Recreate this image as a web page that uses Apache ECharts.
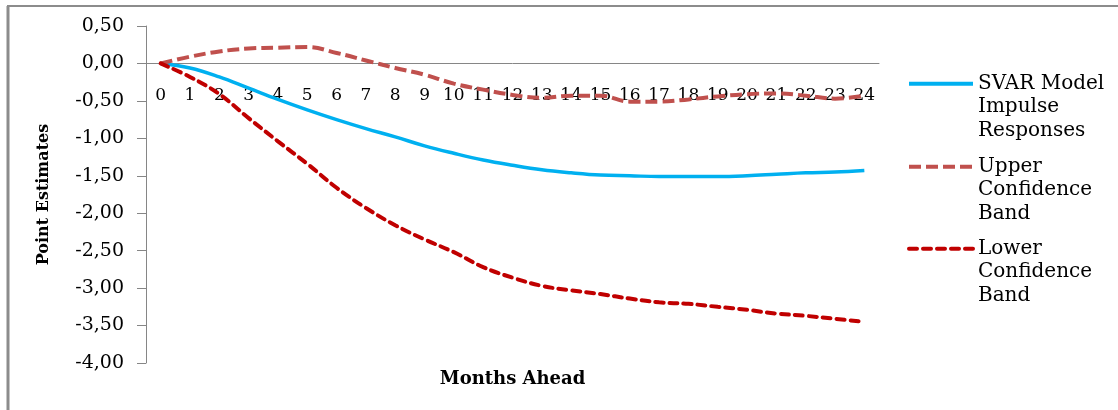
<!DOCTYPE html>
<html>
<head>
<meta charset="utf-8">
<script src="https://cdn.jsdelivr.net/npm/echarts@6/dist/echarts.min.js"></script>
<style>
  html, body { margin: 0; padding: 0; background: #fff; }
  #chart { width: 1118px; height: 410px; }
</style>
</head>
<body>
<div id="chart"></div>
<script>
// months ahead
var months = ["0","1","2","3","4","5","6","7","8","9","10","11","12","13","14","15","16","17","18","19","20","21","22","23","24"];
// SVAR model impulse responses
var svar = [0, -0.06, -0.18, -0.33, -0.48, -0.62, -0.75, -0.87, -0.98, -1.10, -1.20, -1.29, -1.36, -1.42, -1.46, -1.49, -1.50, -1.51, -1.51, -1.51, -1.50, -1.48, -1.46, -1.45, -1.43];
// upper confidence band
var upper = [0, 0.09, 0.16, 0.20, 0.21, 0.22, 0.14, 0.04, -0.06, -0.15, -0.27, -0.35, -0.42, -0.46, -0.43, -0.43, -0.51, -0.51, -0.48, -0.44, -0.41, -0.40, -0.43, -0.47, -0.43];
// lower confidence band
var lower = [0, -0.18, -0.41, -0.73, -1.04, -1.34, -1.66, -1.93, -2.16, -2.35, -2.52, -2.72, -2.86, -2.97, -3.03, -3.08, -3.14, -3.19, -3.21, -3.25, -3.29, -3.34, -3.37, -3.41, -3.45];

var names = ["SVAR Model\nImpulse\nResponses", "Upper\nConfidence\nBand", "Lower\nConfidence\nBand"];
var font = "DejaVu Serif";

function legendAt(name, top) {
  return {
    data: [name],
    left: 907,
    top: top,
    padding: 0,
    itemWidth: 64,
    itemHeight: 6,
    itemGap: 6,
    itemStyle: { opacity: 0 },
    lineStyle: { width: 4 },
    // two blank lines first, so the first text line sits level with the icon
    formatter: function (n) {
      return "\n\n" + n;
    },
    textStyle: {
      fontFamily: font,
      fontSize: 20,
      color: "#000",
      lineHeight: 23.5
    }
  };
}

var dom = echarts.init(document.getElementById("chart"));
var option = {
  backgroundColor: "#fff",
  animation: false,
  grid: {
    left: 146,
    right: 239,
    top: 26,
    bottom: 47,
    containLabel: false,
    outerBoundsMode: "none"
  },
  legend: [legendAt(names[0], 25), legendAt(names[1], 108), legendAt(names[2], 190)],
  xAxis: {
    type: "category",
    data: months,
    boundaryGap: true,
    position: "bottom",
    offset: -299.5, // pull the axis up to the zero line
    name: "Months Ahead",
    nameLocation: "middle",
    nameGap: 307,
    nameTextStyle: {
      fontFamily: font,
      fontWeight: "bold",
      fontSize: 18,
      color: "#000"
    },
    axisLine: { onZero: false, lineStyle: { color: "#868686", width: 1 } },
    axisTick: { show: false },
    axisLabel: {
      interval: 0,
      margin: 24,
      fontFamily: font,
      fontSize: 17,
      color: "#000"
    },
    splitLine: { show: false }
  },
  yAxis: {
    type: "value",
    min: -4,
    max: 0.5,
    interval: 0.5,
    name: "Point Estimates",
    nameLocation: "middle",
    nameGap: 94,
    nameTextStyle: {
      fontFamily: font,
      fontWeight: "bold",
      fontSize: 16,
      color: "#000"
    },
    axisLine: { show: true, lineStyle: { color: "#868686", width: 1 } },
    axisTick: { show: true, length: 9, lineStyle: { color: "#868686" } },
    axisLabel: {
      margin: 22,
      fontFamily: font,
      fontSize: 19,
      color: "#000",
      formatter: function (v) {
        return v.toFixed(2).replace(".", ",");
      }
    },
    splitLine: { show: false }
  },
  graphic: [
    { type: "line", shape: { x1: 8, y1: 6, x2: 8, y2: 410 }, style: { stroke: "#8c8c8c", lineWidth: 3 } },
    { type: "line", shape: { x1: 7, y1: 6, x2: 1118, y2: 6 }, style: { stroke: "#8c8c8c", lineWidth: 2 } }
  ],
  series: [
    {
      name: names[0],
      type: "line",
      data: svar,
      smooth: 0.4,
      symbol: "none",
      itemStyle: { color: "#00B0F0" },
      lineStyle: { color: "#00B0F0", width: 3.5 }
    },
    {
      name: names[1],
      type: "line",
      data: upper,
      smooth: 0.4,
      symbol: "none",
      itemStyle: { color: "#C0504D" },
      lineStyle: { color: "#C0504D", width: 4, type: [12, 5] }
    },
    {
      name: names[2],
      type: "line",
      data: lower,
      smooth: 0.4,
      symbol: "none",
      itemStyle: { color: "#C00000" },
      lineStyle: { color: "#C00000", width: 4, type: [8, 6], cap: "round" }
    }
  ]
};
dom.setOption(option);
window.addEventListener("resize", function () {
  dom.resize();
});
</script>
</body>
</html>
